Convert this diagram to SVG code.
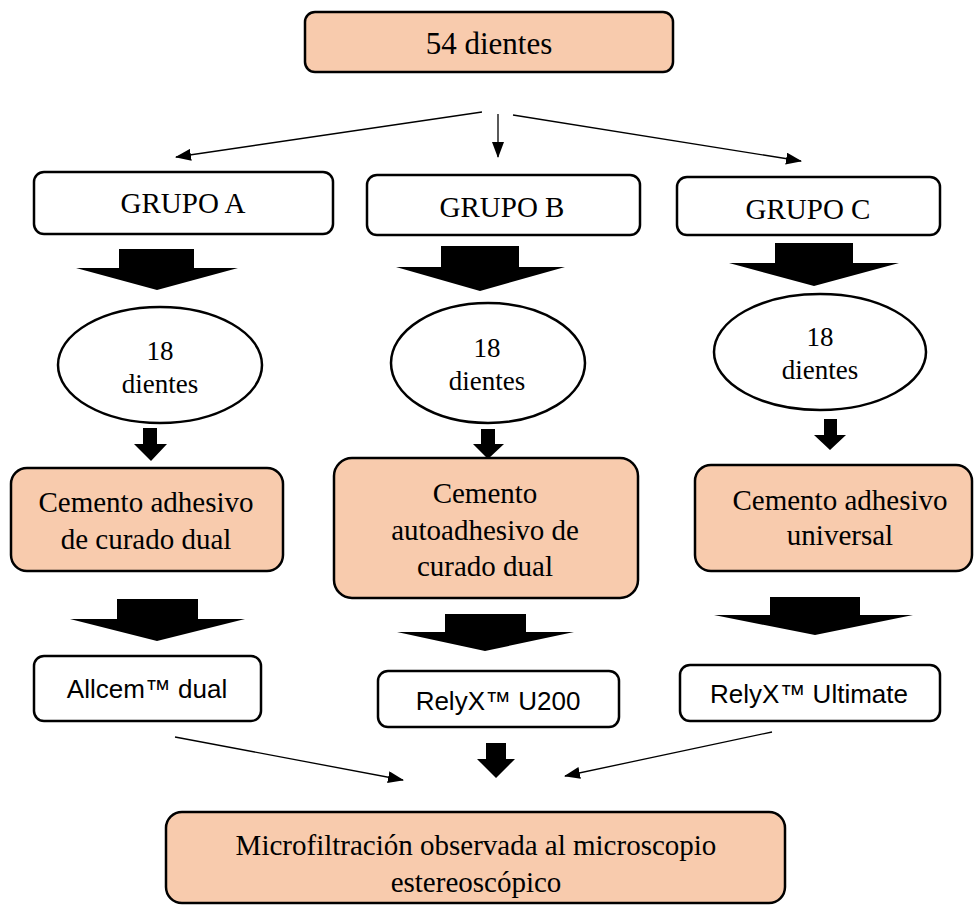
<svg xmlns="http://www.w3.org/2000/svg" width="976" height="906" viewBox="0 0 976 906">
<style>
.peach{fill:#F8CBAD;stroke:#000;stroke-width:2.5}
.white{fill:#fff;stroke:#000;stroke-width:2.5}
.serif{font-family:"Liberation Serif","Times New Roman",serif;fill:#000;text-anchor:middle}
.sans{font-family:"Liberation Sans",Arial,sans-serif;fill:#000;text-anchor:middle;font-size:26px}
.thin{stroke:#000;stroke-width:1.3;fill:none;marker-end:url(#ah)}
.blk{fill:#000}
</style>
<defs>
<marker id="ah" markerWidth="16" markerHeight="12" refX="15" refY="6" orient="auto" markerUnits="userSpaceOnUse">
<path d="M0,0 L16,6 L0,12 Z" fill="#000"/>
</marker>
</defs>
<rect width="976" height="906" fill="#fff"/>

<g id="connectors">
<line class="thin" x1="482" y1="112" x2="176" y2="157"/>
<line class="thin" x1="498" y1="114" x2="498" y2="157"/>
<line class="thin" x1="513" y1="115" x2="801" y2="161"/>
<path class="blk" d="M119,249 H194 V268 H238 L157,290 L76,268 H119 Z"/>
<path class="blk" d="M441,246 H519 V267 H565 L480,291 L396,267 H441 Z"/>
<path class="blk" d="M775,243 H853 V263 H899 L814,286 L729,263 H775 Z"/>
<path class="blk" d="M143,428 H157 V444 H167 L151,461 L134,444 H143 Z"/>
<path class="blk" d="M481,429 H495 V444 H504 L488,459 L473,444 H481 Z"/>
<path class="blk" d="M824,419 H837 V435 H846 L830,450 L814,435 H824 Z"/>
<path class="blk" d="M117,599 H198 V619 H245 L157,641 L70,619 H117 Z"/>
<path class="blk" d="M445,614 H526 V632 H574 L485,651 L397,632 H445 Z"/>
<path class="blk" d="M770,597 H860 V615 H913 L815,635 L714,615 H770 Z"/>
<path class="blk" d="M486,743 H506 V759 H515 L496,778 L477,759 H486 Z"/>
<line class="thin" x1="175" y1="737" x2="403" y2="780"/>
<line class="thin" x1="772" y1="732" x2="565" y2="776"/>
</g>

<g id="n-top">
<rect class="peach" x="305" y="12" width="368" height="60" rx="10"/>
<text class="serif" x="489" y="54" font-size="31">54 dientes</text>
</g>

<g id="n-grupoA">
<rect class="white" x="34" y="172" width="299" height="62" rx="10"/>
<text class="serif" x="183" y="213" font-size="29">GRUPO A</text>
</g>
<g id="n-grupoB">
<rect class="white" x="367" y="175" width="273" height="60" rx="10"/>
<text class="serif" x="502" y="217" font-size="29">GRUPO B</text>
</g>
<g id="n-grupoC">
<rect class="white" x="677" y="177" width="263" height="58" rx="10"/>
<text class="serif" x="808" y="219" font-size="29">GRUPO C</text>
</g>

<g id="n-ellA">
<ellipse class="white" cx="160" cy="365" rx="102" ry="58"/>
<text class="serif" x="160" y="360" font-size="27">18</text>
<text class="serif" x="160" y="393" font-size="27">dientes</text>
</g>
<g id="n-ellB">
<ellipse class="white" cx="488" cy="363" rx="97" ry="60"/>
<text class="serif" x="487" y="357" font-size="27">18</text>
<text class="serif" x="487" y="390" font-size="27">dientes</text>
</g>
<g id="n-ellC">
<ellipse class="white" cx="820" cy="352" rx="106" ry="58"/>
<text class="serif" x="820" y="346" font-size="27">18</text>
<text class="serif" x="820" y="379" font-size="27">dientes</text>
</g>

<g id="n-cemA">
<rect class="peach" x="11" y="468" width="272" height="103" rx="16"/>
<text class="serif" x="146" y="512" font-size="29">Cemento adhesivo</text>
<text class="serif" x="146" y="549" font-size="29">de curado dual</text>
</g>
<g id="n-cemB">
<rect class="peach" x="334" y="458" width="304" height="140" rx="18"/>
<text class="serif" x="485" y="503" font-size="29">Cemento</text>
<text class="serif" x="485" y="540" font-size="29">autoadhesivo de</text>
<text class="serif" x="485" y="576" font-size="29">curado dual</text>
</g>
<g id="n-cemC">
<rect class="peach" x="695" y="465" width="277" height="106" rx="16"/>
<text class="serif" x="840" y="510" font-size="29">Cemento adhesivo</text>
<text class="serif" x="840" y="545" font-size="29">universal</text>
</g>

<g id="n-allcem">
<rect class="white" x="34" y="656" width="227" height="65" rx="10"/>
<text class="sans" x="147" y="698">Allcem™ dual</text>
</g>
<g id="n-u200">
<rect class="white" x="378" y="671" width="241" height="56" rx="10"/>
<text class="sans" x="498" y="710">RelyX™ U200</text>
</g>
<g id="n-ultimate">
<rect class="white" x="680" y="665" width="260" height="56" rx="10"/>
<text class="sans" x="809" y="703">RelyX™ Ultimate</text>
</g>

<g id="n-final">
<rect class="peach" x="166" y="812" width="619" height="91" rx="16"/>
<text class="serif" x="476" y="855" font-size="29">Microfiltración observada al microscopio</text>
<text class="serif" x="476" y="892" font-size="29">estereoscópico</text>
</g>
</svg>
